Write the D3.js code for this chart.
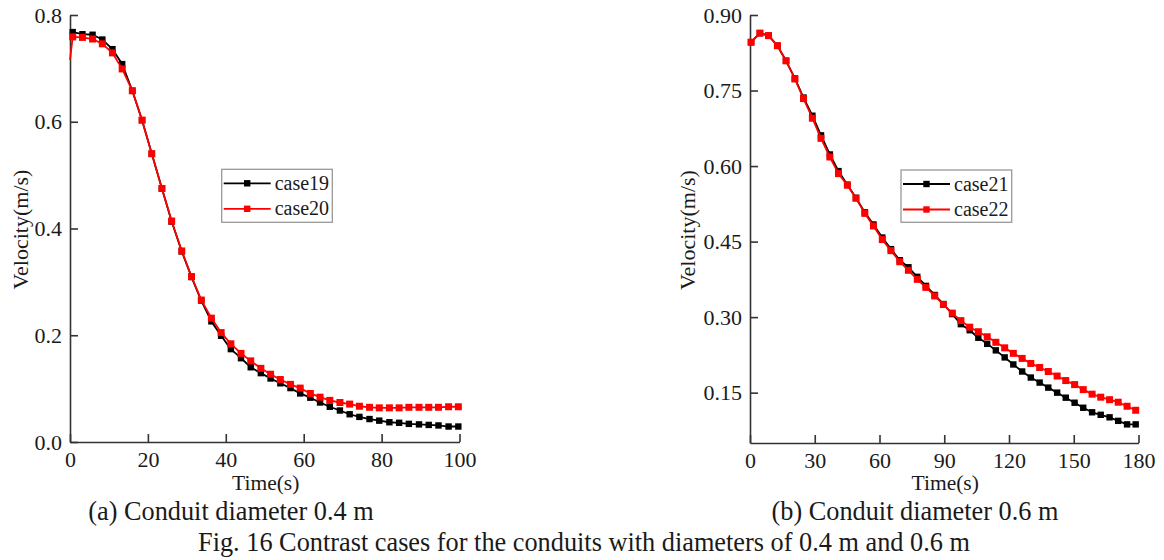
<!DOCTYPE html>
<html>
<head>
<meta charset="utf-8">
<script src="https://cdn.jsdelivr.net/npm/d3@7"></script>
<style>
  html, body { margin: 0; padding: 0; background: #fff; }
  svg { display: block; }
  text { font-family: "Liberation Serif", "Times New Roman", serif; fill: #1a1a1a; }
</style>
</head>
<body>
<svg id="fig" width="1164" height="560"></svg>
<script>
// ---- Panel (a): conduit diameter 0.4 m ----
const timeA = [0.7, 3.2, 5.8, 8.3, 10.9, 13.4, 16.0, 18.5, 21.0, 23.6,
  26.1, 28.7, 31.2, 33.7, 36.3, 38.8, 41.3, 43.9, 46.4, 49.0,
  51.5, 54.0, 56.6, 59.1, 61.7, 64.2, 66.7, 69.3, 71.8, 74.3,
  76.9, 79.4, 82.0, 84.5, 87.0, 89.6, 92.1, 94.6, 97.2, 99.7];
const case19 = [0.768, 0.764, 0.763, 0.754, 0.736, 0.708, 0.658, 0.603, 0.540, 0.475,
  0.413, 0.357, 0.309, 0.265, 0.226, 0.199, 0.174, 0.157, 0.140, 0.129,
  0.119, 0.110, 0.101, 0.091, 0.083, 0.074, 0.066, 0.059, 0.052, 0.047,
  0.043, 0.040, 0.037, 0.036, 0.034, 0.033, 0.032, 0.031, 0.029, 0.029];
const case20 = [0.759, 0.758, 0.755, 0.746, 0.729, 0.699, 0.658, 0.603, 0.540, 0.475,
  0.414, 0.358, 0.310, 0.266, 0.232, 0.205, 0.184, 0.166, 0.152, 0.138,
  0.127, 0.117, 0.108, 0.101, 0.091, 0.084, 0.078, 0.074, 0.071, 0.067,
  0.065, 0.064, 0.064, 0.064, 0.065, 0.065, 0.065, 0.065, 0.066, 0.066];
// values at t = 0 (line only, no marker)
const startA = [0.768, 0.716];
const xTicksA = [0, 20, 40, 60, 80, 100];
const yTicksA = [0.0, 0.2, 0.4, 0.6, 0.8];

// ---- Panel (b): conduit diameter 0.6 m ----
const timeB = [0.5, 4.6, 8.6, 12.7, 16.7, 20.8, 24.8, 28.9, 32.9, 37.0,
  41.0, 45.1, 49.1, 53.2, 57.2, 61.3, 65.3, 69.4, 73.4, 77.5,
  81.5, 85.6, 89.6, 93.7, 97.7, 101.8, 105.8, 109.9, 113.9, 118.0,
  122.0, 126.1, 130.1, 134.2, 138.2, 142.3, 146.3, 150.4, 154.4, 158.5,
  162.5, 166.6, 170.6, 174.7, 178.7];
const case21 = [0.846, 0.864, 0.859, 0.839, 0.809, 0.774, 0.736, 0.700, 0.661, 0.623,
  0.590, 0.563, 0.537, 0.508, 0.484, 0.458, 0.435, 0.413, 0.399, 0.380,
  0.362, 0.344, 0.326, 0.306, 0.286, 0.274, 0.259, 0.247, 0.234, 0.220,
  0.206, 0.192, 0.180, 0.170, 0.160, 0.150, 0.140, 0.130, 0.120, 0.111,
  0.106, 0.101, 0.094, 0.087, 0.087];
const case22 = [0.846, 0.864, 0.859, 0.839, 0.809, 0.773, 0.734, 0.695, 0.655, 0.618,
  0.585, 0.562, 0.536, 0.506, 0.481, 0.454, 0.432, 0.410, 0.393, 0.375,
  0.359, 0.342, 0.325, 0.308, 0.293, 0.280, 0.271, 0.261, 0.250, 0.239,
  0.228, 0.218, 0.208, 0.200, 0.192, 0.183, 0.174, 0.166, 0.156, 0.147,
  0.141, 0.136, 0.131, 0.123, 0.115];
const xTicksB = [0, 30, 60, 90, 120, 150, 180];
const yTicksB = [0.15, 0.30, 0.45, 0.60, 0.75, 0.90];

const svg = d3.select("#fig");
const TICK_FONT = 22;

function panel(cfg) {
  const x = d3.scaleLinear().domain(cfg.xDomain).range([cfg.left, cfg.right]);
  const y = d3.scaleLinear().domain(cfg.yDomain).range([cfg.bottom, cfg.top]);
  const g = svg.append("g");

  // axes (ticks point inward)
  const xAxis = d3.axisBottom(x).tickValues(cfg.xTicks).tickFormat(d3.format("d"))
    .tickSizeInner(-8).tickSizeOuter(0).tickPadding(9);
  const yAxis = d3.axisLeft(y).tickValues(cfg.yTicks).tickFormat(d3.format(cfg.yFmt))
    .tickSizeInner(-8).tickSizeOuter(0).tickPadding(8);

  const gx = g.append("g").attr("transform", `translate(0,${cfg.bottom})`).call(xAxis);
  const gy = g.append("g").attr("transform", `translate(${cfg.left},0)`).call(yAxis);
  [gx, gy].forEach(a => {
    a.selectAll("path.domain").attr("stroke", "#333").attr("stroke-width", 1.6);
    a.selectAll(".tick line").attr("stroke", "#333").attr("stroke-width", 1.6);
    a.selectAll(".tick text")
      .attr("font-family", '"Liberation Serif", "Times New Roman", serif')
      .attr("font-size", TICK_FONT).attr("fill", "#1a1a1a");
  });

  // series
  const line = d3.line().x(d => x(d[0])).y(d => y(d[1]));
  cfg.series.forEach(s => {
    const pts = s.values.map((v, i) => [s.time[i], v]);
    const linePts = s.start != null ? [[0, s.start]].concat(pts) : pts;
    g.append("path").datum(linePts)
      .attr("fill", "none").attr("stroke", s.color).attr("stroke-width", 1.8)
      .attr("stroke-linejoin", "round").attr("d", line);
    g.append("g").selectAll("rect").data(pts).join("rect")
      .attr("x", d => x(d[0]) - s.size / 2).attr("y", d => y(d[1]) - s.size / 2)
      .attr("width", s.size).attr("height", s.size).attr("fill", s.color);
  });

  // axis titles
  g.append("text").attr("transform", `translate(${cfg.yTitleX},${(cfg.top + cfg.bottom) / 2 + 1}) rotate(-90)`)
    .attr("text-anchor", "middle").attr("font-size", 22).text("Velocity(m/s)");
  g.append("text").attr("x", (cfg.left + cfg.right) / 2 + 1).attr("y", 490)
    .attr("text-anchor", "middle").attr("font-size", 21.5).text("Time(s)");

  // legend
  const lg = g.append("g");
  lg.append("rect").attr("x", cfg.legend.x).attr("y", cfg.legend.y)
    .attr("width", cfg.legend.w).attr("height", cfg.legend.h)
    .attr("fill", "#fff").attr("stroke", "#999").attr("stroke-width", 1.3);
  cfg.series.forEach((s, i) => {
    const ly = cfg.legend.y + 14 + i * 25.5;
    const lx = cfg.legend.x + 2;
    lg.append("line").attr("x1", lx).attr("x2", lx + 47).attr("y1", ly).attr("y2", ly)
      .attr("stroke", s.color).attr("stroke-width", 1.8);
    lg.append("rect").attr("x", lx + 23.5 - 3.2).attr("y", ly - 3.2)
      .attr("width", 6.4).attr("height", 6.4).attr("fill", s.color);
    lg.append("text").attr("x", lx + 51).attr("y", ly + 6.5)
      .attr("font-size", 20).text(s.name);
  });

  // panel caption
  svg.append("text").attr("x", cfg.capX).attr("y", 520).attr("text-anchor", "middle")
    .attr("font-size", 26.3).attr("fill", "#111").text(cfg.caption);
}

panel({
  left: 70, right: 459.5, top: 15, bottom: 442,
  xDomain: [0, 100], yDomain: [0, 0.8],
  xTicks: xTicksA, yTicks: yTicksA, yFmt: ".1f", yTitleX: 28,
  series: [
    { name: "case19", time: timeA, values: case19, start: startA[0], color: "#000000", size: 6.4 },
    { name: "case20", time: timeA, values: case20, start: startA[1], color: "#ff0000", size: 7 }
  ],
  legend: { x: 221.7, y: 169.3, w: 110.6, h: 53 },
  caption: "(a) Conduit diameter 0.4 m", capX: 231
});

panel({
  left: 750, right: 1138.5, top: 15, bottom: 443,
  xDomain: [0, 180], yDomain: [0.05, 0.90],
  xTicks: xTicksB, yTicks: yTicksB, yFmt: ".2f", yTitleX: 695,
  series: [
    { name: "case21", time: timeB, values: case21, start: null, color: "#000000", size: 6.4 },
    { name: "case22", time: timeB, values: case22, start: null, color: "#ff0000", size: 7 }
  ],
  legend: { x: 901, y: 170, w: 110.7, h: 52.3 },
  caption: "(b) Conduit diameter 0.6 m", capX: 915
});

// figure caption
svg.append("text").attr("x", 584).attr("y", 551).attr("text-anchor", "middle")
  .attr("font-size", 26.3).attr("fill", "#111")
  .text("Fig. 16 Contrast cases for the conduits with diameters of 0.4 m and 0.6 m");
</script>
</body>
</html>
